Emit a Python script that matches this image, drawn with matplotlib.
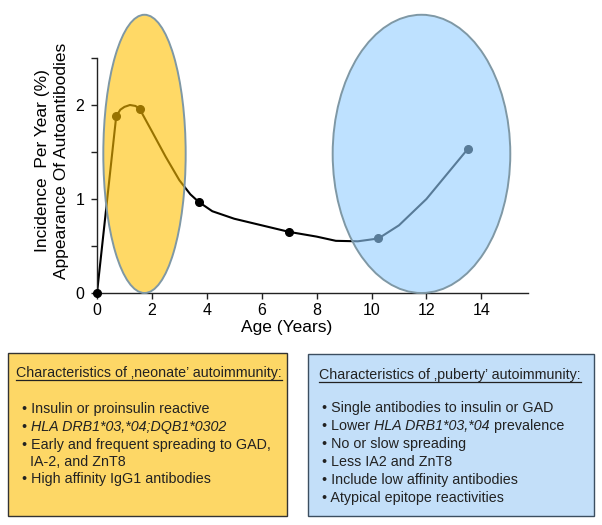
import matplotlib
matplotlib.use("Agg")
import matplotlib.pyplot as plt
from matplotlib.patches import Ellipse, Rectangle
from matplotlib.lines import Line2D

plt.rcParams['font.family'] = ['Liberation Sans', 'DejaVu Sans']

# ---- data ----
marker_age = [0.0, 0.7, 1.55, 3.7, 7.0, 10.25, 13.5]
marker_inc = [0.0, 1.88, 1.96, 0.97, 0.65, 0.58, 1.53]
curve_age = [0.0, 0.7, 0.85, 1.0, 1.2, 1.4, 1.55, 2.0, 2.5, 3.0, 3.4, 3.7, 4.2, 5.0, 6.0, 7.0, 8.0, 8.7, 9.5, 10.25, 11.0, 12.0, 13.5]
curve_inc = [0.0, 1.88, 1.95, 1.98, 2.0, 1.99, 1.96, 1.72, 1.45, 1.2, 1.05, 0.97, 0.87, 0.79, 0.72, 0.65, 0.6, 0.555, 0.55, 0.58, 0.72, 1.0, 1.53]
x_ticks = [0, 2, 4, 6, 8, 10, 12, 14]
y_ticks = [0, 0.5, 1, 1.5, 2, 2.5]
y_tick_labels = ['0', '', '1', '', '2', '']

neonate_title = "Characteristics of \u201aneonate\u2019 autoimmunity:"
neonate_items = [
    [("\u2022 Insulin or proinsulin reactive", 'normal')],
    [("\u2022 ", 'normal'), ("HLA DRB1*03,*04;DQB1*0302", 'italic')],
    [("\u2022 Early and frequent spreading to GAD,", 'normal')],
    [("  IA-2, and ZnT8", 'normal')],
    [("\u2022 High affinity IgG1 antibodies", 'normal')],
]
puberty_title = "Characteristics of \u201apuberty\u2019 autoimmunity:"
puberty_items = [
    [("\u2022 Single antibodies to insulin or GAD", 'normal')],
    [("\u2022 Lower ", 'normal'), ("HLA DRB1*03,*04", 'italic'), (" prevalence", 'normal')],
    [("\u2022 No or slow spreading", 'normal')],
    [("\u2022 Less IA2 and ZnT8", 'normal')],
    [("\u2022 Include low affinity antibodies", 'normal')],
    [("\u2022 Atypical epitope reactivities", 'normal')],
]

W, H = 602, 525
fig = plt.figure(figsize=(W / 100, H / 100), dpi=100)

def fx(x):
    return x / W

def fy(y):
    return 1 - y / H

ax_l, ax_r, ax_t, ax_b = 97, 528, 58, 293
ax = fig.add_axes([fx(ax_l), fy(ax_b), (ax_r - ax_l) / W, (ax_b - ax_t) / H])
ax.set_xlim(0, 15.7)
ax.set_ylim(0, 2.5)

ax.plot(curve_age, curve_inc, color='black', lw=1.5, zorder=2,
        solid_joinstyle='round')
ax.plot(marker_age, marker_inc, 'o', color='black', ms=5.5, zorder=3, clip_on=False)

# translucent ellipses over the curve
yel = Ellipse((1.73, 1.48), 3.0, 2.96, facecolor='#FFC000', alpha=0.6,
              edgecolor='none', zorder=4, clip_on=False)
blu = Ellipse((11.82, 1.48), 6.47, 2.96, facecolor='#94CEFF', alpha=0.6,
              edgecolor='none', zorder=4, clip_on=False)
for e in (yel, blu):
    ax.add_patch(e)
for (c, w) in [((1.73, 1.48), 3.0), ((11.82, 1.48), 6.47)]:
    ax.add_patch(Ellipse(c, w, 2.96, facecolor='none', edgecolor='#7F98A5',
                         lw=1.4, zorder=5, clip_on=False))

for s in ('top', 'right'):
    ax.spines[s].set_visible(False)
for s in ('left', 'bottom'):
    ax.spines[s].set_color('#222222')
    ax.spines[s].set_linewidth(1.0)
ax.set_xticks(x_ticks)
ax.set_yticks(y_ticks)
ax.set_yticklabels(y_tick_labels)
ax.tick_params(axis='both', labelsize=11.5, length=4, width=1.0, color='#222222')
ax.tick_params(axis='x', pad=3)
ax.tick_params(axis='y', pad=5)

ax.set_xlabel("Age (Years)", fontsize=12.5)
ax.xaxis.set_label_coords((287 - ax_l) / (ax_r - ax_l), (ax_b - 320) / (ax_b - ax_t))
ax.set_ylabel("Incidence  Per Year (%)\nAppearance Of Autoantibodies", fontsize=12.5,
              va='center', ha='center', linespacing=1.3)
ax.yaxis.set_label_coords((52 - ax_l) / (ax_r - ax_l), (ax_b - 161) / (ax_b - ax_t))

# ---- text boxes ----
fig.patches.append(Rectangle((fx(8), fy(516)), (287 - 8) / W, (516 - 353) / H,
                             transform=fig.transFigure, facecolor='#FDD766',
                             edgecolor='#333333', lw=1.0))
fig.patches.append(Rectangle((fx(308), fy(516)), (594 - 308) / W, (516 - 354) / H,
                             transform=fig.transFigure, facecolor='#C3DFF9',
                             edgecolor='#3C4E60', lw=1.0))

fig.canvas.draw()
renderer = fig.canvas.get_renderer()
FS = 10.3

def draw_line(x, y, pieces, color='#222222'):
    cur = x
    for txt, style in pieces:
        t = fig.text(fx(cur), fy(y), txt, fontsize=FS, style=style, color=color,
                     ha='left', va='baseline')
        bb = t.get_window_extent(renderer)
        cur += bb.width
    return cur

def draw_title(x, y, txt, color='#222222'):
    t = fig.text(fx(x), fy(y), txt, fontsize=FS, color=color, ha='left', va='baseline')
    bb = t.get_window_extent(renderer)
    fig.add_artist(Line2D([fx(x), fx(x + bb.width)], [fy(y + 2.5), fy(y + 2.5)],
                          transform=fig.transFigure, color=color, lw=0.9))

draw_title(16, 377, neonate_title)
ys = [413, 431, 448.5, 466, 483.5]
xs = [22, 22, 22, 22, 22]
for x, y, item in zip(xs, ys, neonate_items):
    draw_line(x, y, item)

draw_title(319, 379, puberty_title)
ys2 = [412, 430, 448, 466, 484, 502]
for y, item in zip(ys2, puberty_items):
    draw_line(322, y, item)

fig.savefig("out.png", dpi=100)
